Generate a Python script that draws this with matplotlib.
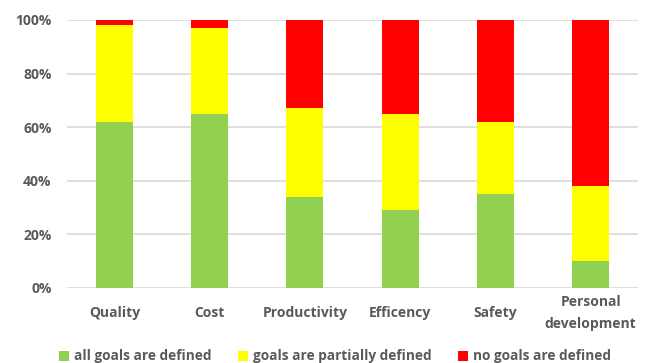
import matplotlib
matplotlib.use('Agg')
import matplotlib.pyplot as plt
import numpy as np
from matplotlib.ticker import PercentFormatter

categories = ['Quality', 'Cost', 'Productivity', 'Efficency', 'Safety', 'Personal\ndevelopment']
all_defined = [62, 65, 34, 29, 35, 10]
partially_defined = [36, 32, 33, 36, 27, 28]
none_defined = [2, 3, 33, 35, 38, 62]

series_names = ['all goals are defined', 'goals are partially defined', 'no goals are defined']
colors = ['#92D050', '#FFFF00', '#FF0000']
text_color = '#595959'

plt.rcParams['font.family'] = ['Open Sans', 'DejaVu Sans']

fig = plt.figure(figsize=(6.48, 3.63), dpi=100)
ax = fig.add_axes([0.103, 0.207, 0.882, 0.738])

x = np.arange(len(categories))
bottom = np.zeros(len(categories))
for vals, name, c in zip([all_defined, partially_defined, none_defined], series_names, colors):
    ax.bar(x, vals, bottom=bottom, width=0.39, color=c, label=name, zorder=3)
    bottom += np.array(vals)

ax.set_xlim(-0.5, len(categories) - 0.5)
ax.set_ylim(0, 100)
ax.set_yticks(range(0, 101, 20))
ax.yaxis.set_major_formatter(PercentFormatter(decimals=0))
ax.grid(axis='y', color='#D9D9D9', linewidth=1.2, zorder=0)
for s in ['top', 'right', 'left', 'bottom']:
    ax.spines[s].set_visible(False)
ax.tick_params(length=0, colors=text_color, labelsize=10)
ax.tick_params(axis='y', pad=11)
ax.tick_params(axis='x', pad=18)
ax.set_xticks(x)
ax.set_xticklabels(categories, fontweight='bold', linespacing=1.75, va='center')
for lbl in ax.get_yticklabels():
    lbl.set_fontweight('bold')

fig.legend(loc='lower center', ncol=3, frameon=False, bbox_to_anchor=(0.517, -0.035),
           handlelength=0.7, handleheight=0.75, handletextpad=0.35, columnspacing=2.0,
           prop={'size': 9.8, 'weight': 'bold'}, labelcolor=text_color)

fig.savefig('out.png', dpi=100)
